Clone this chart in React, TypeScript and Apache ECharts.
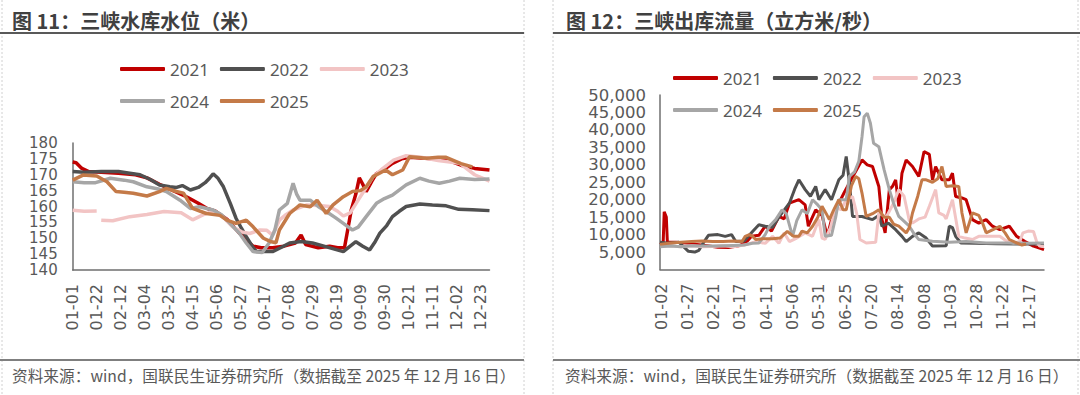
import React, { useEffect, useRef } from "react";
import * as echarts from "echarts";

// ---------- categories (month-day, leap-year calendar) ----------
const MONTH_DAYS = [31, 29, 31, 30, 31, 30, 31, 31, 30, 31, 30, 31];
const dayCategories: string[] = [];
MONTH_DAYS.forEach((n, m) => {
  for (let d = 1; d <= n; d++) {
    dayCategories.push(`${String(m + 1).padStart(2, "0")}-${String(d).padStart(2, "0")}`);
  }
});

const YEARS = ["2021", "2022", "2023", "2024", "2025"];
const COLORS = ["#c00000", "#505050", "#f2c4c4", "#a6a6a6", "#c47a48"];

// level axis ticks
const LEVEL_MIN = 140;
const LEVEL_MAX = 180;
const LEVEL_STEP = 5;
// flow axis ticks
const FLOW_MIN = 0;
const FLOW_MAX = 50000;
const FLOW_STEP = 5000;

// ---------- 三峡水库水位 (米): [day index, value] ----------
const level2021: [number, number][] = [
  [0, 174.0], [3, 173.8], [8, 172.0], [14, 171.0], [25, 170.8], [40, 170.5], [55, 170.0], [65, 169.0],
  [76, 167.0], [88, 165.0], [100, 163.0], [110, 161.0], [117, 159.5], [125, 158.5], [135, 156.0],
  [145, 152.0], [152, 149.5], [158, 147.5], [165, 147.0], [175, 147.0], [185, 147.5], [195, 148.5],
  [200, 151.0], [204, 148.0], [215, 147.0], [225, 147.5], [232, 147.0], [238, 147.0], [241, 153.0],
  [244, 159.0], [248, 164.0], [251, 169.0], [254, 167.0], [257, 164.7], [262, 168.0], [266, 170.4],
  [272, 171.5], [280, 173.6], [288, 175.0], [295, 175.5], [305, 175.3], [315, 175.0], [327, 174.8],
  [340, 173.0], [352, 172.0], [365, 171.5],
];
const level2022: [number, number][] = [
  [0, 171.0], [10, 170.8], [25, 171.0], [40, 171.0], [50, 170.5], [59, 170.0], [68, 168.5], [76, 166.8],
  [85, 166.2], [91, 166.0], [96, 166.6], [103, 165.2], [110, 166.0], [116, 167.5], [120, 169.0],
  [123, 170.3], [127, 169.0], [132, 166.2], [138, 161.0], [143, 156.3], [148, 153.0], [152, 150.5],
  [158, 147.0], [161, 145.8], [175, 145.8], [182, 147.0], [190, 148.5], [200, 149.0], [210, 148.5],
  [220, 147.5], [230, 146.5], [237, 145.8], [243, 147.5], [248, 148.9], [254, 147.5], [260, 146.3],
  [265, 149.0], [269, 151.6], [275, 154.0], [280, 156.8], [286, 158.5], [292, 160.0], [304, 160.8],
  [315, 160.5], [327, 160.2], [338, 159.1], [350, 159.0], [365, 158.7],
];
const level2023: [number, number | string][] = [
  [0, 158.8], [10, 158.5], [21, 158.6], [23, "-"], [25, 155.7], [35, 155.5], [50, 156.8], [65, 157.5],
  [80, 158.4], [95, 158.0], [105, 155.8], [115, 157.5], [123, 158.5], [132, 156.5], [140, 153.6],
  [148, 152.0], [155, 151.5], [164, 152.6], [170, 152.5], [175, 151.0], [181, 155.7], [187, 157.5],
  [193, 158.9], [205, 160.5], [215, 160.3], [225, 160.0], [232, 158.5], [237, 157.0], [243, 158.0],
  [250, 162.0], [257, 166.0], [263, 169.4], [270, 171.5], [281, 174.6], [292, 176.0], [305, 175.5],
  [320, 174.5], [339, 173.6], [352, 170.0], [365, 168.0],
];
const level2024: [number, number][] = [
  [0, 167.8], [10, 167.5], [20, 167.5], [33, 168.9], [45, 168.3], [53, 167.8], [65, 166.2], [75, 165.5],
  [82, 164.7], [94, 162.0], [103, 159.4], [111, 159.9], [123, 158.9], [130, 157.5], [135, 155.7],
  [146, 151.6], [152, 148.5], [158, 145.8], [166, 145.5], [172, 148.5], [177, 152.5], [181, 158.9],
  [188, 161.0], [193, 167.3], [196, 164.0], [199, 162.0], [208, 162.0], [215, 160.0], [222, 158.4],
  [230, 156.5], [237, 154.7], [245, 152.6], [250, 153.5], [257, 156.8], [266, 161.0], [273, 162.5],
  [280, 163.6], [292, 166.8], [304, 168.9], [312, 168.0], [321, 167.3], [330, 168.0], [339, 168.9],
  [352, 168.5], [365, 168.7],
];
const level2025: [number, number][] = [
  [0, 168.3], [9, 169.9], [21, 169.6], [30, 167.8], [38, 164.7], [45, 164.5], [53, 164.2], [65, 163.3],
  [76, 164.7], [82, 165.7], [90, 164.8], [97, 164.2], [105, 159.4], [117, 157.8], [129, 157.2],
  [135, 155.7], [143, 154.7], [152, 155.7], [158, 153.6], [167, 150.0], [173, 149.0], [178, 148.6],
  [181, 152.6], [190, 157.8], [199, 160.5], [208, 159.9], [214, 162.0], [222, 157.8], [228, 160.5],
  [237, 163.1], [245, 164.7], [252, 165.0], [257, 166.2], [263, 169.4], [274, 171.5], [280, 170.0],
  [289, 171.5], [295, 175.7], [310, 175.2], [320, 175.5], [327, 175.5], [340, 173.5], [350, 172.5],
];

// ---------- 三峡出库流量 (立方米/秒): [day index, value] ----------
const flow2021: [number, number][] = [
  [0, 7200], [3, 7500], [4, 16500], [6, 15000], [7, 7800], [15, 7800], [25, 7600], [35, 7200], [45, 6800],
  [55, 6400], [65, 6300], [75, 6800], [82, 7800], [87, 9500], [94, 9800], [100, 12400], [106, 11000],
  [113, 15200], [118, 14500], [123, 19000], [132, 20000], [138, 18500], [141, 12400], [148, 17100],
  [154, 15500], [159, 9500], [163, 14300], [170, 19000], [175, 22000], [180, 24800], [185, 27600],
  [192, 31400], [197, 30000], [202, 29500], [208, 23800], [211, 14300], [214, 10500], [218, 22900],
  [221, 23800], [224, 25700], [227, 18100], [230, 27600], [234, 31400], [240, 29500], [246, 26700],
  [251, 33800], [256, 33000], [259, 25700], [262, 29500], [268, 25700], [275, 25700], [278, 27600],
  [281, 20900], [287, 20500], [291, 20000], [297, 14300], [303, 13300], [310, 14300], [316, 12400],
  [323, 11400], [332, 12400], [339, 9500], [347, 8000], [355, 6700], [365, 5700],
];
const flow2022: [number, number][] = [
  [0, 7800], [8, 7500], [18, 7800], [27, 5200], [33, 5000], [37, 5500], [42, 8000], [46, 9800], [55, 10000],
  [62, 9500], [68, 10000], [72, 8000], [80, 8200], [88, 10900], [94, 12800], [100, 12400], [107, 12100],
  [113, 15000], [118, 17000], [123, 19000], [128, 23000], [132, 25700], [138, 22900], [143, 21000],
  [148, 23800], [151, 20000], [157, 22900], [163, 20000], [170, 25700], [174, 27000], [177, 32400],
  [180, 25000], [183, 15200], [192, 15200], [202, 14300], [208, 15500], [211, 12400], [217, 13300],
  [224, 11400], [230, 9500], [234, 8000], [240, 9500], [246, 10500], [253, 9000], [259, 6700], [272, 6800],
  [275, 12400], [278, 12000], [281, 9500], [286, 7600], [300, 7500], [320, 7400], [340, 7300], [365, 7300],
];
const flow2023: [number, number][] = [
  [0, 6800], [10, 6700], [20, 6500], [30, 6800], [40, 6500], [50, 6600], [60, 6800], [70, 6500], [80, 7000],
  [91, 8000], [100, 7500], [107, 9500], [113, 7500], [118, 10500], [123, 8000], [130, 9000], [138, 10500],
  [145, 9500], [151, 14300], [154, 9000], [157, 8600], [162, 12000], [167, 18000], [172, 17100],
  [177, 20000], [183, 20900], [187, 16000], [190, 8600], [196, 7600], [205, 7800], [208, 16200],
  [215, 15000], [222, 19000], [227, 22900], [232, 21000], [237, 14000], [240, 13300], [246, 14500],
  [252, 15000], [256, 18100], [262, 22900], [265, 16200], [270, 15500], [272, 14500], [278, 20000],
  [284, 9500], [290, 9000], [297, 8600], [303, 9500], [310, 9500], [323, 9500], [330, 8000], [336, 7600],
  [342, 8000], [345, 10500], [350, 11000], [355, 10900], [358, 8000], [361, 6700], [365, 6500],
];
const flow2024: [number, number][] = [
  [0, 6500], [10, 6700], [20, 6500], [30, 6800], [40, 6700], [50, 6700], [60, 6800], [70, 6900], [80, 7000],
  [88, 7500], [94, 7600], [100, 10000], [104, 12400], [110, 14300], [116, 17100], [120, 16000],
  [126, 9500], [130, 14000], [135, 17100], [140, 16000], [145, 20000], [150, 18500], [154, 17100],
  [157, 9500], [163, 9800], [167, 15000], [170, 20000], [177, 20000], [180, 26700], [185, 28000],
  [189, 31000], [192, 38000], [194, 43800], [197, 44800], [200, 41900], [203, 36200], [208, 35200],
  [213, 28600], [218, 22900], [222, 19000], [227, 15200], [237, 12400], [242, 10000], [246, 8600],
  [259, 8100], [275, 7800], [291, 8000], [310, 7600], [330, 7600], [350, 7500], [365, 7600],
];
const flow2025: [number, number][] = [
  [0, 7200], [10, 7600], [20, 7800], [30, 8000], [40, 8200], [50, 8000], [60, 8000], [70, 8200], [78, 8000],
  [81, 9500], [85, 10000], [88, 9500], [91, 8600], [98, 8800], [107, 8800], [114, 9000], [121, 10900],
  [127, 9500], [132, 9500], [135, 11000], [140, 10500], [145, 12400], [150, 15000], [154, 18100],
  [158, 16000], [161, 14300], [165, 17000], [170, 20000], [174, 17100], [177, 17100], [182, 24000],
  [186, 26700], [189, 26000], [192, 21900], [196, 15200], [202, 16000], [208, 17100], [213, 15000],
  [218, 15000], [222, 13000], [227, 12400], [234, 10500], [237, 12000], [240, 16200], [245, 21000],
  [249, 25700], [253, 25700], [259, 25000], [264, 26000], [268, 29500], [272, 23800], [278, 24000],
  [284, 23800], [287, 16200], [291, 10500], [297, 16200], [303, 15500], [307, 13000], [310, 10500],
  [317, 11500], [323, 12400], [328, 10500], [332, 8600], [339, 7600], [344, 7000], [348, 7300],
];

const LEVEL_SERIES = [level2021, level2022, level2023, level2024, level2025];
const FLOW_SERIES = [flow2021, flow2022, flow2023, flow2024, flow2025];

const TITLE_LEFT = "图 11：三峡水库水位（米）";
const TITLE_RIGHT = "图 12：三峡出库流量（立方米/秒）";
const SOURCE = "资料来源：wind，国联民生证券研究所（数据截至 2025 年 12 月 16 日）";

const FONT = '"Noto Sans", "Noto Sans CJK SC", sans-serif';
const AXFONT = '"DejaVu Sans", "Noto Sans", sans-serif';
const CJK = '"Noto Sans CJK SC", "Noto Sans", sans-serif';
const TXT = "#595959";

export default function App() {
  const ref = useRef<HTMLDivElement>(null);

  useEffect(() => {
    if (!ref.current) return;
    const chart = echarts.init(ref.current, undefined, { renderer: "svg" });

    const xAxisBase = (gridIndex: number, intervalFn: (i: number) => boolean) => ({
      type: "category",
      gridIndex,
      data: dayCategories,
      boundaryGap: false,
      axisLine: { show: true, lineStyle: { color: "#6f6f6f", width: 1.5 } },
      axisTick: { show: false },
      axisLabel: {
        rotate: 90,
        interval: (i: number) => intervalFn(i),
        color: TXT,
        fontSize: 16,
        fontFamily: AXFONT,
        margin: 14,
      },
      splitLine: { show: false },
    });

    const legendBase = (left: number, top: number) => ({
      left,
      top,
      width: 300,
      orient: "horizontal",
      itemWidth: 45,
      itemHeight: 4,
      itemGap: 11,
      icon: "roundRect",
      data: YEARS,
      textStyle: { fontSize: 17, color: TXT, fontFamily: FONT, lineHeight: 21 },
      selectedMode: false,
    });

    const series: any[] = [];
    YEARS.forEach((y, i) => {
      series.push({
        name: y,
        type: "line",
        xAxisIndex: 0,
        yAxisIndex: 0,
        data: LEVEL_SERIES[i],
        symbol: "none",
        lineStyle: { color: COLORS[i], width: 3.5 },
        itemStyle: { color: COLORS[i] },
        emphasis: { disabled: true },
      });
    });
    YEARS.forEach((y, i) => {
      series.push({
        name: y,
        type: "line",
        xAxisIndex: 1,
        yAxisIndex: 1,
        data: FLOW_SERIES[i],
        symbol: "none",
        lineStyle: { color: COLORS[i], width: 3 },
        itemStyle: { color: COLORS[i] },
        emphasis: { disabled: true },
      });
    });

    const dash = (x: number) => ({
      type: "line",
      shape: { x1: x, y1: 0, x2: x, y2: 395 },
      style: { stroke: "#d0d0d0", lineWidth: 1, lineDash: [2, 2] },
      silent: true,
    });
    const hline = (x1: number, x2: number, y: number, color: string) => ({
      type: "line",
      shape: { x1, y1: y, x2, y2: y },
      style: { stroke: color, lineWidth: 2 },
      silent: true,
    });
    const text = (x: number, y: number, t: string, size: number, bold: boolean, color: string) => ({
      type: "text",
      x,
      y,
      style: {
        text: t,
        fontSize: size,
        fontWeight: bold ? "bold" : "normal",
        fontFamily: CJK,
        fill: color,
        verticalAlign: "middle",
        align: "left",
      },
      silent: true,
    });

    chart.setOption({
      animation: false,
      backgroundColor: "#ffffff",
      grid: [
        { left: 72.7, right: 1080 - 489.5, top: 143, bottom: 395 - 270, containLabel: false },
        { left: 660, right: 1080 - 1044, top: 95, bottom: 395 - 269.5, containLabel: false },
      ],
      legend: [legendBase(115, 53.5), legendBase(668, 62.5)],
      xAxis: [xAxisBase(0, (i) => i % 21 === 0), xAxisBase(1, (i) => i % 25 === 1)],
      yAxis: [
        {
          type: "value",
          gridIndex: 0,
          min: LEVEL_MIN,
          max: LEVEL_MAX,
          interval: LEVEL_STEP,
          axisLine: { show: true, lineStyle: { color: "#6f6f6f", width: 1.5 } },
          axisTick: { show: false },
          splitLine: { show: false },
          axisLabel: {
            color: TXT,
            fontSize: 15,
            fontFamily: AXFONT,
            margin: 15,
            showMinLabel: true,
            showMaxLabel: true,
          },
        },
        {
          type: "value",
          gridIndex: 1,
          min: FLOW_MIN,
          max: FLOW_MAX,
          interval: FLOW_STEP,
          axisLine: { show: true, lineStyle: { color: "#6f6f6f", width: 1.5 } },
          axisTick: { show: false },
          splitLine: { show: false },
          axisLabel: {
            color: TXT,
            fontSize: 16.5,
            fontFamily: AXFONT,
            margin: 14,
            showMinLabel: true,
            showMaxLabel: true,
            formatter: (v: number) => v.toLocaleString("en-US"),
          },
        },
      ],
      series,
      graphic: [
        dash(2),
        dash(524),
        dash(553),
        dash(1078),
        hline(0, 524, 33, "#595959"),
        hline(553, 1080, 33, "#595959"),
        hline(0, 524, 360, "#7f7f7f"),
        hline(553, 1080, 360, "#7f7f7f"),
        text(12, 20, TITLE_LEFT, 20, true, "#404040"),
        text(566, 20, TITLE_RIGHT, 20, true, "#404040"),
        text(12, 375, SOURCE, 15.7, false, TXT),
        text(565, 375, SOURCE, 15.7, false, TXT),
      ],
    });

    return () => chart.dispose();
  }, []);

  return (
    <div
      ref={ref}
      style={{ position: "fixed", left: 0, top: 0, width: 1080, height: 395, background: "#fff" }}
    />
  );
}
